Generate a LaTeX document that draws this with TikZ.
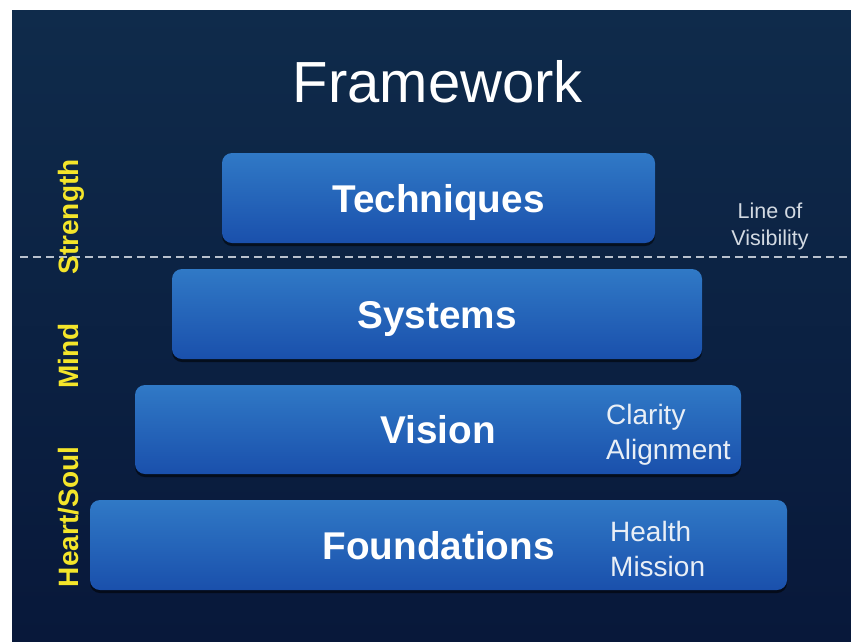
\documentclass[tikz,border=0pt]{standalone}
\usepackage{fontspec}
\setmainfont{Liberation Sans}
\usetikzlibrary{shadows}
\definecolor{bgtop}{HTML}{0F2B4B}
\definecolor{bgbot}{HTML}{08183A}
\definecolor{boxtop}{HTML}{3079C6}
\definecolor{boxbot}{HTML}{1A50AC}
\definecolor{sideyellow}{HTML}{F4E52A}
\definecolor{dashgrey}{HTML}{B9C2CE}
\definecolor{notegrey}{HTML}{D3DAE2}
\definecolor{notewhite}{HTML}{E9EFF6}
\begin{document}
\begin{tikzpicture}[x=1pt,y=-1pt,
  tier/.style={rounded corners=10pt, top color=boxtop, bottom color=boxbot, draw=none,
    drop shadow={shadow xshift=0pt, shadow yshift=-3pt, opacity=0.55, fill=black}},
  tierlabel/.style={anchor=base, inner sep=0pt, text=white,
    font=\fontsize{38.7}{40}\selectfont\bfseries},
  sidelabel/.style={anchor=base, rotate=90, inner sep=0pt, text=sideyellow,
    font=\fontsize{28}{30}\selectfont\bfseries},
  note/.style={anchor=west, align=left, inner sep=0pt, text=notewhite,
    font=\fontsize{28}{35}\selectfont},
  visnote/.style={align=center, inner sep=0pt, text=notegrey,
    font=\fontsize{21.5}{27}\selectfont},
  visline/.style={draw=dashgrey, line width=1.8pt, dash pattern=on 8pt off 5pt}
]
\useasboundingbox (0,0) rectangle (851,641);
\fill[white] (0,0) rectangle (851,641);
\shade[top color=bgtop, bottom color=bgbot] (12,10) rectangle (851,641);

% title
\node[inner sep=0pt, anchor=base, text=white, font=\fontsize{58}{60}\selectfont] (title) at (438,102) {Framework};

% tiers
\node[tier, minimum width=433pt, minimum height=90pt] (tech) at (438.5,198) {};
\node[tier, minimum width=530pt, minimum height=90pt] (sys) at (437,314) {};
\node[tier, minimum width=606pt, minimum height=89pt] (vis) at (438,429.5) {};
\node[tier, minimum width=697pt, minimum height=90pt] (found) at (438.5,545) {};

% tier labels
\node[tierlabel] (techL) at ([yshift=-14pt]tech.center) {Techniques};
\node[tierlabel] (sysL) at ([yshift=-14pt]sys.center) {Systems};
\node[tierlabel] (visL) at ([yshift=-14pt]vis.center) {Vision};
\node[tierlabel] (foundL) at ([yshift=-14pt]found.center) {Foundations};

% notes
\node[note] (visnote) at (606,435) {Clarity\\Alignment};
\node[note] (foundnote) at (610,549) {Health\\Mission};
\node[visnote] (lov) at (770,226) {Line of\\Visibility};

% line of visibility
\coordinate (lineL) at (20,257);
\coordinate (lineR) at (851,257);
\draw[visline] (lineL) -- (lineR);

% side labels
\node[sidelabel] (strength) at (78,217) {Strength};
\node[sidelabel] (mind) at (78,356) {Mind};
\node[sidelabel] (heart) at (78,517) {Heart/Soul};
\end{tikzpicture}
\end{document}
